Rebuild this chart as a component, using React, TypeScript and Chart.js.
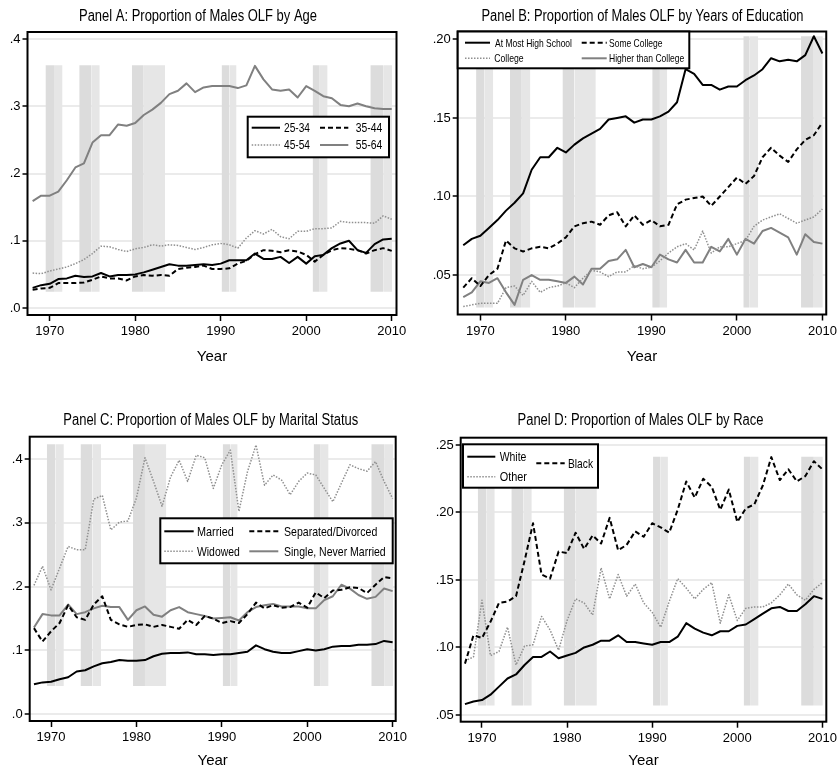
import React, { useEffect, useRef } from "react";
import { Chart, registerables } from "chart.js";

Chart.register(...registerables);

const FONT = "'Liberation Sans', Arial, Helvetica, sans-serif";

// ---------------- data ----------------
const years = [
  1968, 1969, 1970, 1971, 1972, 1973, 1974, 1975, 1976, 1977, 1978, 1979, 1980, 1981, 1982,
  1983, 1984, 1985, 1986, 1987, 1988, 1989, 1990, 1991, 1992, 1993, 1994, 1995, 1996, 1997,
  1998, 1999, 2000, 2001, 2002, 2003, 2004, 2005, 2006, 2007, 2008, 2009, 2010,
];
const xTicks = [1970, 1980, 1990, 2000, 2010];

// recession shading (start / end year of each shaded strip)
const bandStart = [1969.5, 1970.5, 1973.45, 1974.85, 1979.6, 1981.0, 1990.1, 1991.0, 2000.75, 2001.5, 2007.5, 2009.0];
const bandEnd = [1970.5, 1971.5, 1974.85, 1975.85, 1981.0, 1983.5, 1991.0, 1991.85, 2001.5, 2002.5, 2009.0, 2010.05];
const bandShade = ["#dcdcdc", "#e6e6e6", "#dcdcdc", "#e6e6e6", "#dcdcdc", "#e6e6e6", "#dcdcdc", "#e6e6e6", "#dcdcdc", "#e6e6e6", "#dcdcdc", "#e6e6e6"];

// Panel A
const titleA = "Panel A: Proportion of Males OLF by Age";
const labelsA = ["25-34", "35-44", "45-54", "55-64"];
const age2534 = [0.030, 0.034, 0.036, 0.043, 0.044, 0.048, 0.046, 0.047, 0.052, 0.047, 0.049, 0.049, 0.050, 0.053, 0.057, 0.061, 0.065, 0.063, 0.063, 0.064, 0.065, 0.064, 0.066, 0.071, 0.071, 0.071, 0.081, 0.073, 0.073, 0.076, 0.067, 0.076, 0.066, 0.077, 0.079, 0.089, 0.096, 0.100, 0.086, 0.082, 0.095, 0.102, 0.103];
const age3544 = [0.027, 0.029, 0.030, 0.037, 0.037, 0.037, 0.038, 0.042, 0.047, 0.044, 0.044, 0.041, 0.047, 0.049, 0.048, 0.049, 0.048, 0.058, 0.060, 0.061, 0.063, 0.058, 0.058, 0.059, 0.066, 0.070, 0.080, 0.086, 0.085, 0.083, 0.086, 0.084, 0.079, 0.069, 0.079, 0.086, 0.089, 0.088, 0.086, 0.081, 0.086, 0.089, 0.085];
const age4554 = [0.052, 0.051, 0.055, 0.058, 0.061, 0.066, 0.072, 0.081, 0.092, 0.091, 0.087, 0.084, 0.088, 0.090, 0.094, 0.092, 0.094, 0.093, 0.090, 0.087, 0.090, 0.094, 0.096, 0.094, 0.089, 0.104, 0.115, 0.110, 0.117, 0.106, 0.103, 0.114, 0.114, 0.118, 0.118, 0.119, 0.129, 0.127, 0.127, 0.127, 0.126, 0.137, 0.132];
const age5564 = [0.159, 0.167, 0.167, 0.173, 0.190, 0.209, 0.215, 0.246, 0.257, 0.257, 0.273, 0.271, 0.275, 0.287, 0.295, 0.305, 0.318, 0.323, 0.334, 0.321, 0.328, 0.330, 0.330, 0.330, 0.327, 0.331, 0.360, 0.340, 0.325, 0.323, 0.325, 0.313, 0.330, 0.323, 0.315, 0.312, 0.302, 0.300, 0.304, 0.300, 0.297, 0.296, 0.296];
const yTicksA = [0, 0.1, 0.2, 0.3, 0.4];

// Panel B
const titleB = "Panel B: Proportion of Males OLF by Years of Education";
const labelsB = ["At Most High School", "Some College", "College", "Higher than College"];
const eduHS = [0.069, 0.073, 0.075, 0.080, 0.085, 0.091, 0.096, 0.102, 0.117, 0.125, 0.125, 0.131, 0.128, 0.133, 0.137, 0.140, 0.143, 0.149, 0.150, 0.151, 0.147, 0.149, 0.149, 0.151, 0.154, 0.160, 0.181, 0.178, 0.171, 0.171, 0.168, 0.170, 0.170, 0.174, 0.177, 0.181, 0.188, 0.186, 0.187, 0.186, 0.190, 0.202, 0.191];
const eduSome = [0.042, 0.048, 0.043, 0.050, 0.054, 0.072, 0.067, 0.065, 0.067, 0.068, 0.067, 0.070, 0.074, 0.081, 0.083, 0.084, 0.082, 0.088, 0.090, 0.081, 0.088, 0.082, 0.085, 0.081, 0.082, 0.095, 0.098, 0.099, 0.100, 0.094, 0.100, 0.106, 0.112, 0.108, 0.113, 0.125, 0.131, 0.126, 0.122, 0.130, 0.136, 0.139, 0.147];
const eduCol = [0.030, 0.031, 0.032, 0.032, 0.032, 0.042, 0.043, 0.037, 0.046, 0.039, 0.042, 0.043, 0.045, 0.042, 0.048, 0.053, 0.052, 0.049, 0.052, 0.052, 0.056, 0.054, 0.055, 0.059, 0.064, 0.068, 0.070, 0.066, 0.078, 0.064, 0.068, 0.068, 0.070, 0.072, 0.081, 0.085, 0.087, 0.089, 0.086, 0.083, 0.085, 0.087, 0.092];
const eduHigher = [0.036, 0.039, 0.046, 0.045, 0.048, 0.039, 0.031, 0.047, 0.050, 0.047, 0.047, 0.046, 0.045, 0.049, 0.044, 0.054, 0.054, 0.059, 0.060, 0.066, 0.055, 0.057, 0.055, 0.063, 0.060, 0.058, 0.066, 0.058, 0.058, 0.068, 0.065, 0.073, 0.063, 0.073, 0.070, 0.078, 0.080, 0.077, 0.074, 0.063, 0.076, 0.071, 0.070];
const yTicksB = [0.05, 0.1, 0.15, 0.2];

// Panel C
const titleC = "Panel C: Proportion of Males OLF by Marital Status";
const labelsC = ["Married", "Separated/Divorced", "Widowed", "Single, Never Married"];
const marMarried = [0.047, 0.050, 0.051, 0.055, 0.058, 0.067, 0.069, 0.075, 0.080, 0.082, 0.085, 0.084, 0.084, 0.085, 0.091, 0.095, 0.096, 0.096, 0.097, 0.094, 0.094, 0.093, 0.094, 0.094, 0.096, 0.098, 0.108, 0.102, 0.098, 0.096, 0.096, 0.099, 0.102, 0.100, 0.102, 0.106, 0.107, 0.107, 0.109, 0.109, 0.110, 0.115, 0.113];
const marSep = [0.135, 0.114, 0.130, 0.143, 0.171, 0.152, 0.148, 0.172, 0.185, 0.148, 0.141, 0.137, 0.140, 0.141, 0.137, 0.140, 0.137, 0.134, 0.148, 0.140, 0.154, 0.150, 0.143, 0.146, 0.143, 0.157, 0.175, 0.166, 0.171, 0.167, 0.168, 0.175, 0.167, 0.191, 0.182, 0.194, 0.195, 0.199, 0.198, 0.190, 0.203, 0.215, 0.213];
const marWid = [0.202, 0.232, 0.195, 0.229, 0.263, 0.258, 0.258, 0.337, 0.343, 0.289, 0.301, 0.303, 0.339, 0.402, 0.365, 0.326, 0.372, 0.398, 0.365, 0.406, 0.402, 0.354, 0.391, 0.414, 0.318, 0.380, 0.422, 0.359, 0.375, 0.367, 0.344, 0.365, 0.378, 0.375, 0.354, 0.333, 0.362, 0.391, 0.385, 0.381, 0.396, 0.365, 0.338];
const marSingle = [0.136, 0.157, 0.155, 0.155, 0.172, 0.157, 0.160, 0.166, 0.170, 0.168, 0.168, 0.148, 0.163, 0.169, 0.156, 0.153, 0.163, 0.168, 0.160, 0.157, 0.154, 0.150, 0.151, 0.152, 0.147, 0.160, 0.168, 0.171, 0.173, 0.169, 0.169, 0.169, 0.166, 0.166, 0.179, 0.185, 0.203, 0.197, 0.187, 0.181, 0.184, 0.197, 0.193];
const yTicksC = [0, 0.1, 0.2, 0.3, 0.4];

// Panel D
const titleD = "Panel D: Proportion of Males OLF by Race";
const labelsD = ["White", "Black", "Other"];
const raceWhite = [0.058, 0.060, 0.061, 0.065, 0.071, 0.077, 0.080, 0.087, 0.093, 0.093, 0.097, 0.092, 0.094, 0.096, 0.100, 0.102, 0.105, 0.105, 0.109, 0.104, 0.104, 0.103, 0.102, 0.104, 0.104, 0.108, 0.118, 0.114, 0.111, 0.109, 0.112, 0.112, 0.116, 0.117, 0.121, 0.125, 0.129, 0.130, 0.127, 0.127, 0.132, 0.138, 0.136];
const raceBlack = [0.088, 0.109, 0.107, 0.119, 0.133, 0.134, 0.138, 0.164, 0.192, 0.154, 0.151, 0.171, 0.170, 0.185, 0.173, 0.183, 0.177, 0.196, 0.172, 0.176, 0.186, 0.182, 0.192, 0.189, 0.185, 0.202, 0.223, 0.211, 0.225, 0.219, 0.202, 0.217, 0.193, 0.203, 0.206, 0.220, 0.241, 0.224, 0.232, 0.223, 0.227, 0.238, 0.232];
const raceOther = [0.090, 0.093, 0.135, 0.094, 0.097, 0.115, 0.087, 0.101, 0.102, 0.123, 0.113, 0.098, 0.120, 0.136, 0.133, 0.124, 0.159, 0.136, 0.154, 0.138, 0.147, 0.133, 0.126, 0.115, 0.134, 0.151, 0.144, 0.136, 0.143, 0.148, 0.118, 0.139, 0.120, 0.129, 0.130, 0.130, 0.133, 0.139, 0.147, 0.139, 0.135, 0.143, 0.148];
const yTicksD = [0.05, 0.1, 0.15, 0.2, 0.25];

// ---------------- styles / layout ----------------
type LineStyle = { color: string; width: number; dash: number[] };
const solidBlack: LineStyle = { color: "#000000", width: 2, dash: [] };
const dashBlack: LineStyle = { color: "#000000", width: 2, dash: [5, 3] };
const dotGray: LineStyle = { color: "#8f8f8f", width: 1.5, dash: [1.5, 1.5] };
const solidGray: LineStyle = { color: "#808080", width: 2, dash: [] };

type LegendItem = { x1: number; x2: number; y: number; tx: number; tw: number };
type Panel = {
  title: string;
  canvas: [number, number, number, number];
  plot: [number, number, number, number];
  titleX: number;
  titleY: number;
  titleW: number;
  xTitleY: number;
  yAxisW: number;
  xRange: [number, number];
  yRange: [number, number];
  yTicks: number[];
  yDecimals: number;
  band: [number, number];
  series: { label: string; data: number[]; style: LineStyle }[];
  legend: { box: [number, number, number, number]; fontSize: number; items: LegendItem[] };
};

const panels: Panel[] = [
  {
    title: titleA,
    canvas: [0, 0, 420, 385],
    plot: [27.5, 32, 396.5, 315],
    titleX: 198,
    titleY: 16.5,
    titleW: 238,
    xTitleY: 357,
    yAxisW: 27,
    xRange: [1967.4, 2010.56],
    yRange: [-0.0104, 0.4104],
    yTicks: yTicksA,
    yDecimals: 1,
    band: [0.024, 0.361],
    series: [
      { label: labelsA[0], data: age2534, style: solidBlack },
      { label: labelsA[1], data: age3544, style: dashBlack },
      { label: labelsA[2], data: age4554, style: dotGray },
      { label: labelsA[3], data: age5564, style: solidGray },
    ],
    legend: {
      box: [247.7, 116.7, 141.3, 40.6],
      fontSize: 12.5,
      items: [
        { x1: 251.7, x2: 280, y: 127.7, tx: 284, tw: 26 },
        { x1: 320, x2: 348.3, y: 127.7, tx: 355.7, tw: 26.5 },
        { x1: 251.7, x2: 280, y: 145, tx: 284, tw: 26 },
        { x1: 320, x2: 348.3, y: 145, tx: 355.7, tw: 26.5 },
      ],
    },
  },
  {
    title: titleB,
    canvas: [420, 0, 420, 385],
    plot: [457.7, 31.5, 826.5, 314.5],
    titleX: 642.5,
    titleY: 16.5,
    titleW: 322,
    xTitleY: 357,
    yAxisW: 30,
    xRange: [1967.35, 2010.45],
    yRange: [0.0249, 0.205],
    yTicks: yTicksB,
    yDecimals: 2,
    band: [0.0294, 0.202],
    series: [
      { label: labelsB[0], data: eduHS, style: solidBlack },
      { label: labelsB[1], data: eduSome, style: dashBlack },
      { label: labelsB[2], data: eduCol, style: dotGray },
      { label: labelsB[3], data: eduHigher, style: solidGray },
    ],
    legend: {
      box: [457.7, 31.5, 231.6, 36.8],
      fontSize: 10.5,
      items: [
        { x1: 465, x2: 490, y: 42.7, tx: 495, tw: 77 },
        { x1: 581.7, x2: 606.7, y: 42.7, tx: 609, tw: 53.5 },
        { x1: 465, x2: 490, y: 58.3, tx: 494.3, tw: 29.3 },
        { x1: 581.7, x2: 606.7, y: 58.3, tx: 609, tw: 75.3 },
      ],
    },
  },
  {
    title: titleC,
    canvas: [0, 385, 420, 385],
    plot: [29.7, 436.7, 395.7, 721],
    titleX: 210.8,
    titleY: 420.5,
    titleW: 295,
    xTitleY: 761,
    yAxisW: 28,
    xRange: [1967.5, 2010.36],
    yRange: [-0.0105, 0.435],
    yTicks: yTicksC,
    yDecimals: 1,
    band: [0.0443, 0.423],
    series: [
      { label: labelsC[0], data: marMarried, style: solidBlack },
      { label: labelsC[1], data: marSep, style: dashBlack },
      { label: labelsC[2], data: marWid, style: dotGray },
      { label: labelsC[3], data: marSingle, style: solidGray },
    ],
    legend: {
      box: [160.3, 518.3, 232.4, 45],
      fontSize: 13,
      items: [
        { x1: 164.3, x2: 193.7, y: 531.3, tx: 197, tw: 36.7 },
        { x1: 249.3, x2: 278.3, y: 531.3, tx: 284, tw: 93.3 },
        { x1: 164.3, x2: 193.7, y: 551.3, tx: 197, tw: 42.7 },
        { x1: 249.3, x2: 278.3, y: 551.3, tx: 284, tw: 101.7 },
      ],
    },
  },
  {
    title: titleD,
    canvas: [420, 385, 420, 385],
    plot: [460.7, 437.7, 826.7, 721.7],
    titleX: 640.5,
    titleY: 420.5,
    titleW: 246,
    xTitleY: 761,
    yAxisW: 30,
    xRange: [1967.5, 2010.46],
    yRange: [0.045, 0.2554],
    yTicks: yTicksD,
    yDecimals: 2,
    band: [0.057, 0.2413],
    series: [
      { label: labelsD[0], data: raceWhite, style: solidBlack },
      { label: labelsD[1], data: raceBlack, style: dashBlack },
      { label: labelsD[2], data: raceOther, style: dotGray },
    ],
    legend: {
      box: [463, 444.3, 135, 43.4],
      fontSize: 13,
      items: [
        { x1: 467.3, x2: 495.3, y: 456.7, tx: 499.7, tw: 26.7 },
        { x1: 536.3, x2: 564.7, y: 463.3, tx: 568, tw: 25 },
        { x1: 467.3, x2: 495.3, y: 476.7, tx: 499.7, tw: 27.3 },
      ],
    },
  },
];

// ---------------- plugins ----------------
const framePlugin = {
  id: "frame",
  afterDraw(chart: any) {
    const { ctx, chartArea } = chart;
    const { left, top, right, bottom } = chartArea;
    ctx.save();
    ctx.strokeStyle = "#000";
    ctx.lineWidth = 2;
    ctx.setLineDash([]);
    ctx.strokeRect(left, top, right - left, bottom - top);
    ctx.restore();
  },
};

// centres the title where the reference has it, and narrows it to the reference width
const titleShift = {
  id: "titleShift",
  afterLayout(chart: any, _args: any, opts: any) {
    const t = chart.titleBlock;
    if (!t || opts == null || opts.center == null) return;
    t.left = opts.center - opts.width / 2;
    t.right = opts.center + opts.width / 2;
  },
};

const fmt = (v: number, d: number) => Number(v).toFixed(d).replace(/^0/, "");

function buildConfig(p: Panel): any {
  const [cx, cy, cw, ch] = p.canvas;
  const [L, T, R, B] = p.plot;
  const TS = 16;
  const TLH = TS * 1.2;
  const XS = 15;
  const XLH = XS * 1.2;
  const tTop = p.titleY - cy - TLH / 2;
  const tBot = T - cy - tTop - TLH;
  const padL = L - cx - p.yAxisW;
  const padR = cx + cw - R;
  const xh = p.xTitleY - B + XLH / 2;
  const padB = cy + ch - B - xh;

  const datasets: any[] = [];
  p.series.forEach((s, i) => {
    datasets.push({
      type: "line",
      label: s.label,
      data: years.map((yr, j) => ({ x: yr, y: s.data[j] })),
      borderColor: s.style.color,
      borderWidth: s.style.width,
      borderDash: s.style.dash,
      borderCapStyle: "butt",
      borderJoinStyle: "round",
      pointRadius: 0,
      pointHoverRadius: 0,
      tension: 0,
      fill: false,
      order: i,
    });
  });
  bandStart.forEach((b, i) => {
    datasets.push({
      type: "line",
      label: "",
      data: [
        { x: b, y: p.band[1] },
        { x: bandEnd[i], y: p.band[1] },
      ],
      borderWidth: 0,
      borderColor: "rgba(0,0,0,0)",
      backgroundColor: bandShade[i],
      pointRadius: 0,
      pointHoverRadius: 0,
      tension: 0,
      fill: { value: p.band[0] },
      order: 100 + i,
    });
  });

  return {
    type: "line",
    data: { datasets },
    plugins: [framePlugin, titleShift],
    options: {
      animation: false,
      responsive: false,
      devicePixelRatio: 1,
      events: [],
      layout: { padding: { left: padL, right: padR, top: 0, bottom: padB } },
      plugins: {
        legend: { display: false },
        tooltip: { enabled: false },
        titleShift: { center: p.titleX - cx, width: p.titleW },
        title: {
          display: true,
          text: p.title,
          color: "#000",
          font: { family: FONT, size: TS, weight: "normal", lineHeight: 1.2 },
          padding: { top: tTop, bottom: tBot },
        },
      },
      scales: {
        x: {
          type: "linear",
          min: p.xRange[0],
          max: p.xRange[1],
          afterBuildTicks: (s: any) => {
            s.ticks = xTicks.map((v) => ({ value: v }));
          },
          afterFit: (s: any) => {
            s.height = xh;
          },
          ticks: {
            font: { family: FONT, size: 13 },
            color: "#000",
            padding: 3,
            maxRotation: 0,
            autoSkip: false,
            callback: (v: any) => String(v),
          },
          grid: {
            drawOnChartArea: false,
            drawTicks: true,
            tickLength: 6,
            tickColor: "#000",
            tickWidth: 1.5,
            color: "#000",
          },
          border: { display: false },
          title: {
            display: true,
            text: "Year",
            color: "#000",
            font: { family: FONT, size: XS, lineHeight: 1.2 },
            padding: { top: 0, bottom: 0 },
          },
        },
        y: {
          type: "linear",
          min: p.yRange[0],
          max: p.yRange[1],
          afterBuildTicks: (s: any) => {
            s.ticks = p.yTicks.map((v) => ({ value: v }));
          },
          afterFit: (s: any) => {
            s.width = p.yAxisW;
          },
          ticks: {
            font: { family: FONT, size: 13 },
            color: "#000",
            padding: 2,
            autoSkip: false,
            callback: (v: any) => fmt(Number(v), p.yDecimals),
          },
          grid: {
            color: "#ebebeb",
            lineWidth: 2,
            drawTicks: true,
            tickLength: 5,
            tickColor: "#000",
            tickWidth: 1.5,
          },
          border: { display: false },
        },
      },
    },
  };
}

function PanelChart({ spec }: { spec: Panel }) {
  const ref = useRef<HTMLCanvasElement | null>(null);
  useEffect(() => {
    if (!ref.current) return;
    const chart = new Chart(ref.current, buildConfig(spec));
    return () => chart.destroy();
  }, [spec]);
  const [cx, cy, cw, ch] = spec.canvas;
  return (
    <canvas
      ref={ref}
      width={cw}
      height={ch}
      style={{ position: "absolute", left: cx, top: cy, width: cw, height: ch }}
    />
  );
}

function Legends() {
  return (
    <svg
      width={840}
      height={770}
      style={{ position: "absolute", left: 0, top: 0, pointerEvents: "none" }}
    >
      {panels.map((p, pi) => {
        const [bx, by, bw, bh] = p.legend.box;
        return (
          <g key={pi}>
            <rect x={bx} y={by} width={bw} height={bh} fill="#fff" stroke="#000" strokeWidth={2} />
            {p.legend.items.map((it, i) => {
              const s = p.series[i];
              return (
                <g key={i}>
                  <line
                    x1={it.x1}
                    x2={it.x2}
                    y1={it.y}
                    y2={it.y}
                    stroke={s.style.color}
                    strokeWidth={s.style.width}
                    strokeDasharray={s.style.dash.length ? s.style.dash.join(" ") : undefined}
                  />
                  <text
                    x={it.tx}
                    y={it.y}
                    dominantBaseline="central"
                    fontFamily={FONT}
                    fontSize={p.legend.fontSize}
                    textLength={it.tw}
                    lengthAdjust="spacingAndGlyphs"
                    fill="#000"
                  >
                    {s.label}
                  </text>
                </g>
              );
            })}
          </g>
        );
      })}
    </svg>
  );
}

export default function App() {
  return (
    <div
      style={{
        position: "absolute",
        left: 0,
        top: 0,
        width: 840,
        height: 770,
        overflow: "hidden",
        background: "#fff",
      }}
    >
      {panels.map((p, i) => (
        <PanelChart key={i} spec={p} />
      ))}
      <Legends />
    </div>
  );
}
